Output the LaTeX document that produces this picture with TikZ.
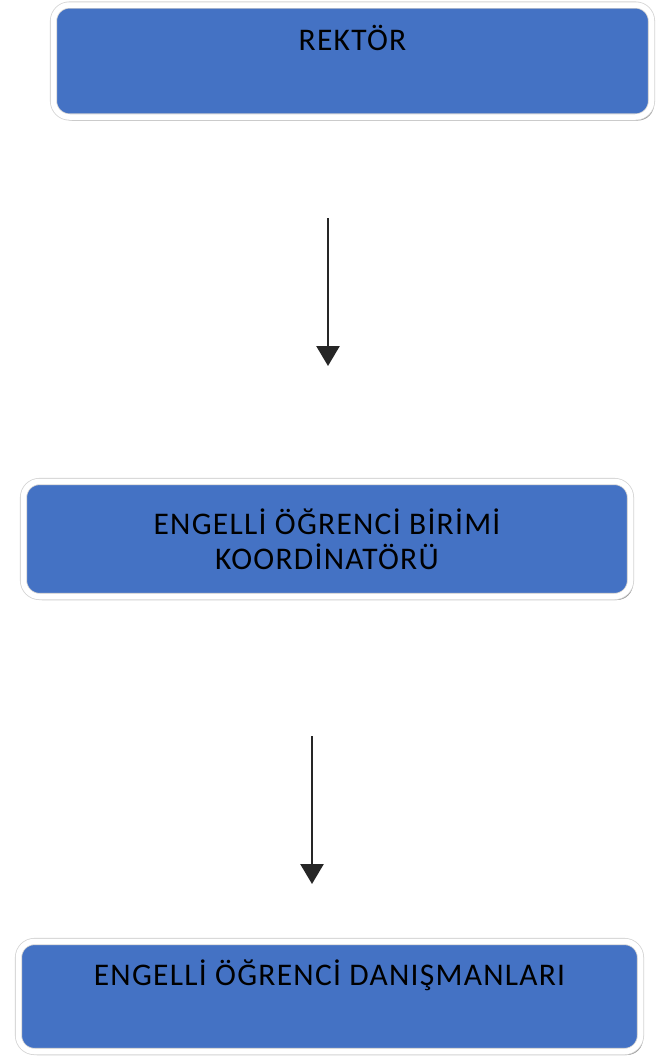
\documentclass[tikz,border=0pt]{standalone}
\usepackage{fontspec}
\setmainfont[LetterSpace=4]{Carlito}
\usetikzlibrary{shadows,arrows.meta}
\definecolor{boxblue}{HTML}{4472C4}
\definecolor{rimgray}{HTML}{D4D4D4}
\tikzset{
  orgbox/.style={rectangle, rounded corners=16pt, fill=boxblue,
    draw=rimgray, double=white, double distance=5.5pt, line width=0.8pt,
    drop shadow={shadow xshift=2.5pt, shadow yshift=-3.5pt, fill=black!50, opacity=0.8},
    font=\fontsize{31.5}{35}\selectfont, text=black, align=center, inner sep=0pt},
  flow/.style={draw=black!85, line width=2.6pt,
    -{Triangle[width=23pt,length=20pt]}}
}
\begin{document}
\begin{tikzpicture}[x=1pt,y=-1pt]
\useasboundingbox (0,0) rectangle (656,1060);
\fill[white] (0,0) rectangle (656,1060);
% boxes (path runs along the middle of the white rim)
\node[orgbox, minimum width=598pt, minimum height=112pt,
      text height=22pt, text depth=44pt] (rektor) at (352.5,61) {REKTÖR};
\node[orgbox, minimum width=607pt, minimum height=115pt] (koord) at (327,539)
  {ENGELLİ ÖĞRENCİ BİRİMİ\\KOORDİNATÖRÜ};
\node[orgbox, minimum width=622pt, minimum height=110pt,
      text height=22pt, text depth=45pt] (danisman) at (329.5,996.5)
  {ENGELLİ ÖĞRENCİ DANIŞMANLARI};
% arrows
\coordinate (a1s) at (328,218);
\coordinate (a1e) at (328,366);
\coordinate (a2s) at (312,736);
\coordinate (a2e) at (312,884);
\draw[flow] (a1s) -- (a1e);
\draw[flow] (a2s) -- (a2e);
\end{tikzpicture}
\end{document}
